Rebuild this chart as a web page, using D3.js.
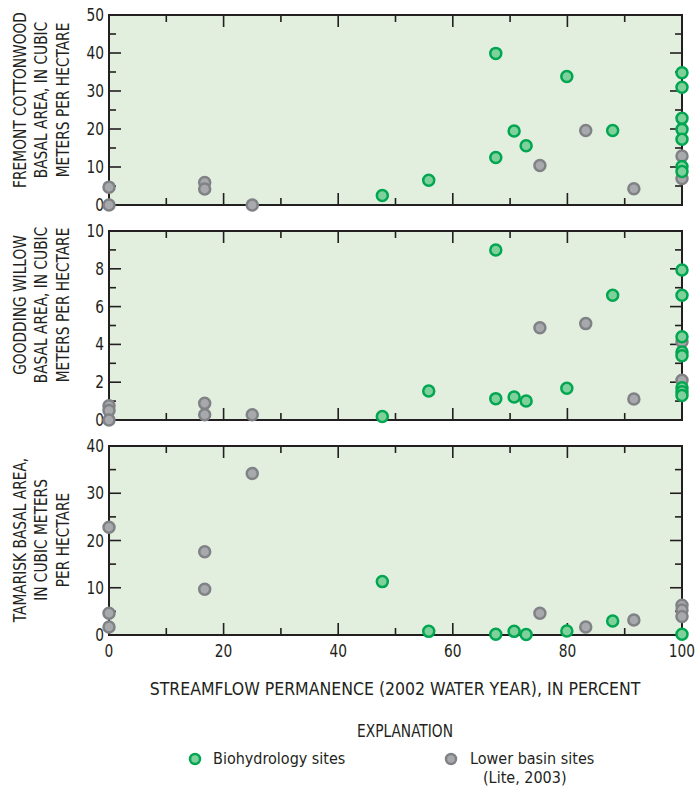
<!DOCTYPE html>
<html>
<head>
<meta charset="utf-8">
<script src="https://cdn.jsdelivr.net/npm/d3@7"></script>
<style>
  body { margin: 0; background: #fff; }
  svg text { font-family: "Liberation Sans Narrow", "Arial Narrow", "DejaVu Sans Condensed", sans-serif; fill: #231f20; }
</style>
</head>
<body>
<svg id="chart" width="695" height="786"></svg>
<script>
// values: [streamflow permanence %, basal area]
const cottonwoodBio = [[47.7, 2.5], [55.8, 6.5], [67.5, 39.9], [67.5, 12.5], [70.7, 19.5], [72.8, 15.6], [79.9, 33.8], [87.9, 19.6],
    [100, 34.8], [100, 31.0], [100, 22.8], [100, 19.9], [100, 17.3], [100, 10.1], [100, 8.8]]
const cottonwoodLower = [[0, 4.7], [0, 0], [16.7, 5.9], [16.7, 4.2], [25, 0], [75.2, 10.4], [83.2, 19.6], [91.6, 4.3], [100, 12.9], [100, 7.0]]
const willowBio = [[47.7, 0.18], [55.8, 1.53], [67.5, 9.0], [67.5, 1.13], [70.7, 1.22], [72.8, 1.0], [79.9, 1.68], [87.9, 6.6],
    [100, 7.94], [100, 6.6], [100, 4.4], [100, 3.6], [100, 3.4], [100, 1.7], [100, 1.5], [100, 1.3]]
const willowLower = [[0, 0.75], [0, 0.5], [0, 0], [16.7, 0.88], [16.7, 0.28], [25, 0.28], [75.2, 4.88], [83.2, 5.1], [91.6, 1.11], [100, 4.14], [100, 2.1]]
const tamariskBio = [[47.7, 11.3], [55.8, 0.77], [67.5, 0.14], [70.7, 0.77], [72.8, 0.1], [79.9, 0.85], [87.9, 2.96], [100, 0.15]]
const tamariskLower = [[0, 22.8], [0, 4.6], [0, 1.7], [16.7, 17.6], [16.7, 9.7], [25, 34.2], [75.2, 4.6], [83.2, 1.7], [91.6, 3.17], [100, 6.3], [100, 5.3], [100, 3.9]]

const xTicks = [0, 20, 40, 60, 80, 100]
const yTitles = [
    ['FREMONT COTTONWOOD', 'BASAL AREA, IN CUBIC', 'METERS PER HECTARE'],
    ['GOODDING WILLOW', 'BASAL AREA, IN CUBIC', 'METERS PER HECTARE'],
    ['TAMARISK BASAL AREA,', 'IN CUBIC METERS', 'PER HECTARE']
]
const yMax = [50, 10, 40]
const yStep = [10, 2, 10]
const xTitle = 'STREAMFLOW PERMANENCE (2002 WATER YEAR), IN PERCENT'
const legendLabels = ['Biohydrology sites', 'Lower basin sites', '(Lite, 2003)']

const colors = {
    bio: { stroke: '#00a650', fill: '#7fd19c' },
    lower: { stroke: '#808285', fill: '#a7a9ac' }
}
const left = 109, right = 682
const panelTops = [15, 231, 446]
const panelBottoms = [205, 420, 635]
const titleCenters = [100, 305, 540]

const svg = d3.select('#chart')
const x = d3.scaleLinear().domain([0, 100]).range([left, right])

// narrow text: the installed fonts are wider than the original condensed face
function narrowText(parent, tx, ty, str, size, anchor, squeeze) {
    return parent.append('g').attr('transform', `translate(${tx},${ty}) scale(${squeeze},1)`)
        .append('text').attr('text-anchor', anchor).attr('font-size', size).text(str)
}

const panels = [
    { bio: cottonwoodBio, lower: cottonwoodLower },
    { bio: willowBio, lower: willowLower },
    { bio: tamariskBio, lower: tamariskLower }
]

panels.forEach((p, i) => {
    const top = panelTops[i], bottom = panelBottoms[i]
    const y = d3.scaleLinear().domain([0, yMax[i]]).range([bottom, top])
    const g = svg.append('g')

    g.append('rect').attr('x', left).attr('y', top).attr('width', right - left).attr('height', bottom - top)
        .attr('fill', '#e2efdf')

    // inward ticks on all four sides
    const xMinor = d3.range(10, 100, 10)
    g.selectAll('.xt').data(xMinor).enter().append('line')
        .attr('x1', d => x(d)).attr('x2', d => x(d))
        .attr('y1', bottom).attr('y2', d => bottom - (d % 20 === 0 ? 12 : 7))
        .attr('stroke', '#231f20').attr('stroke-width', 1.6)
    g.selectAll('.xtt').data(xMinor).enter().append('line')
        .attr('x1', d => x(d)).attr('x2', d => x(d))
        .attr('y1', top).attr('y2', d => top + (d % 20 === 0 ? 12 : 7))
        .attr('stroke', '#231f20').attr('stroke-width', 1.6)
    const half = yStep[i] / 2
    const yMinor = d3.range(half, yMax[i] - 1e-9, half)
    const isMajor = d => Math.abs(d / yStep[i] - Math.round(d / yStep[i])) < 1e-6
    g.selectAll('.yl').data(yMinor).enter().append('line')
        .attr('x1', left).attr('x2', d => left + (isMajor(d) ? 12 : 7))
        .attr('y1', d => y(d)).attr('y2', d => y(d))
        .attr('stroke', '#231f20').attr('stroke-width', 1.6)
    g.selectAll('.yr').data(yMinor).enter().append('line')
        .attr('x1', right).attr('x2', d => right - (isMajor(d) ? 12 : 7))
        .attr('y1', d => y(d)).attr('y2', d => y(d))
        .attr('stroke', '#231f20').attr('stroke-width', 1.6)

    g.append('rect').attr('x', left).attr('y', top).attr('width', right - left).attr('height', bottom - top)
        .attr('fill', 'none').attr('stroke', '#231f20').attr('stroke-width', 2)

    // y tick labels
    d3.range(0, yMax[i] + 1e-9, yStep[i]).forEach(d => {
        narrowText(g, left - 5, y(d) + 6, d, 17, 'end', 0.9)
    })

    // y title
    const tg = g.append('g').attr('transform', `translate(0,${titleCenters[i]}) rotate(-90) scale(0.9,1)`)
    tg.selectAll('text').data(yTitles[i]).enter().append('text')
        .attr('x', 0).attr('y', (d, j) => 26 + j * 21.3)
        .attr('text-anchor', 'middle').attr('font-size', 17)
        .text(d => d)

    // points: lower basin first, biohydrology on top
    g.selectAll('.lower').data(p.lower).enter().append('circle')
        .attr('cx', d => x(d[0])).attr('cy', d => y(d[1])).attr('r', 5.5)
        .attr('fill', colors.lower.fill).attr('stroke', colors.lower.stroke).attr('stroke-width', 2.5)
    g.selectAll('.bio').data(p.bio).enter().append('circle')
        .attr('cx', d => x(d[0])).attr('cy', d => y(d[1])).attr('r', 5.5)
        .attr('fill', colors.bio.fill).attr('stroke', colors.bio.stroke).attr('stroke-width', 2.5)
})

// x tick labels and title
xTicks.forEach(d => narrowText(svg, x(d), 657, d, 17, 'middle', 0.9))
svg.append('text').attr('x', 395).attr('y', 695).attr('text-anchor', 'middle')
    .attr('font-size', 17.5).text(xTitle)

// legend
narrowText(svg, 405, 737, 'EXPLANATION', 17, 'middle', 0.9)
const legend = [
    { key: 'bio', cx: 195, tx: 213, lines: [legendLabels[0]] },
    { key: 'lower', cx: 451, tx: 470, lines: [legendLabels[1], legendLabels[2]] }
]
legend.forEach(l => {
    svg.append('circle').attr('cx', l.cx).attr('cy', 759).attr('r', 5)
        .attr('fill', colors[l.key].fill).attr('stroke', colors[l.key].stroke).attr('stroke-width', 2.5)
    l.lines.forEach((t, j) => {
        svg.append('text').attr('x', l.tx + j * 13).attr('y', 764 + j * 19)
            .attr('font-size', 16).text(t)
    })
})
</script>
</body>
</html>
